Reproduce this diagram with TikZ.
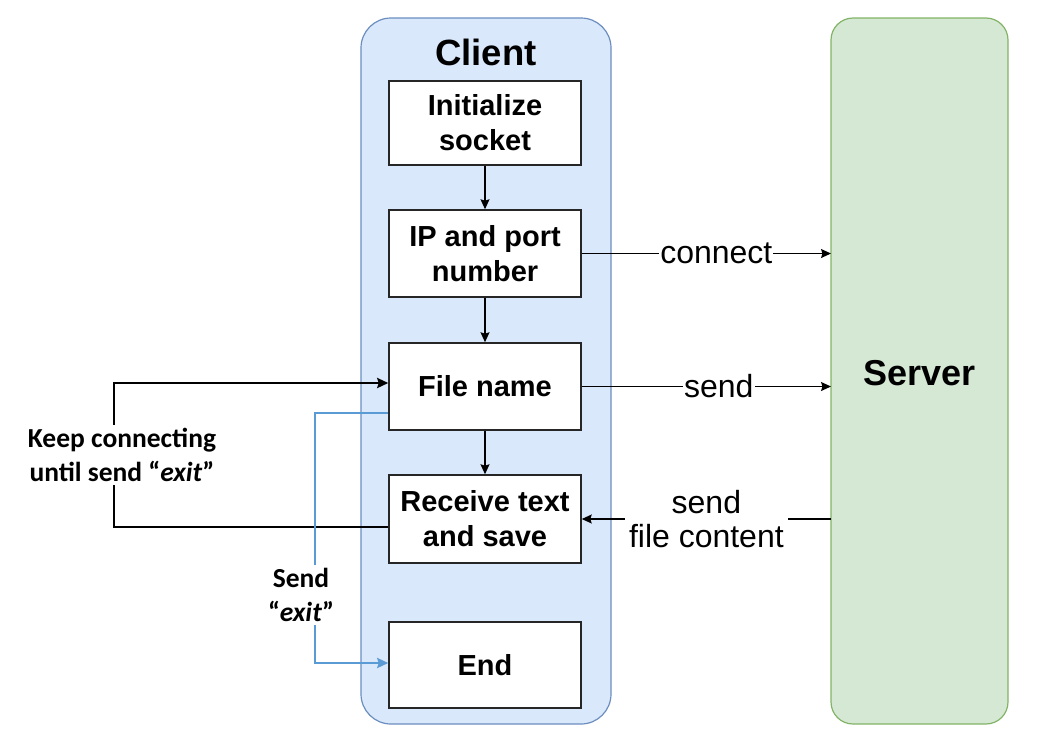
\documentclass[tikz,border=0pt]{standalone}
\usepackage{fontspec}
\setmainfont{Liberation Sans}
\newfontfamily\carl{Carlito}
\usetikzlibrary{arrows.meta}
\definecolor{cfill}{HTML}{DAE8FC}
\definecolor{cdraw}{HTML}{6C8EBF}
\definecolor{sfill}{HTML}{D5E8D4}
\definecolor{sdraw}{HTML}{82B366}
\definecolor{bluel}{HTML}{5B9BD5}
\tikzset{
  lane/.style={draw=#1, line width=1.2pt},
  stepbox/.style={draw=black!85, fill=white, line width=1.5pt, minimum width=192pt,
    minimum height=86pt, align=center, inner sep=0pt,
    font=\bfseries\fontsize{29}{35}\selectfont},
  flow/.style={line width=1.3pt, -{Stealth[length=10pt,width=9pt,inset=1.5pt]}},
  elabel/.style={fill=white, inner sep=1pt, align=center, font=\fontsize{32}{34}\selectfont},
  loopline/.style={line width=2.6pt},
  blueline/.style={line width=2.4pt, draw=bluel},
  sidelabel/.style={fill=white, align=center, inner sep=3pt, font=\carl\bfseries\fontsize{27.5}{34}\selectfont},
}
\begin{document}
\begin{tikzpicture}[x=1pt,y=-1pt]
\useasboundingbox (0,0) rectangle (1038,745);
% containers
\draw[lane=cdraw, fill=cfill, rounded corners=30pt] (361,18) rectangle (611,724);
\draw[lane=sdraw, fill=sfill, rounded corners=22pt] (831,18) rectangle (1008,724);
\node[font=\bfseries\fontsize{36.5}{40}\selectfont] (ctitle) at (486,52) {Client};
\node[font=\bfseries\fontsize{36}{40}\selectfont] (server) at (919.5,373) {Server};
\coordinate (srvleft) at (831,373);
% boxes
\node[stepbox, minimum height=84pt] (init) at (485,123) {Initialize\\socket};
\node[stepbox, minimum height=87pt] (ip) at (485,253.5) {IP and port\\number};
\node[stepbox, minimum height=87pt] (fname) at (485,386.5) {File name};
\node[stepbox, minimum height=88pt] (recv) at (485,519) {Receive text\\and save};
\node[stepbox, minimum height=86pt] (end) at (485,665) {End};
% vertical flow
\draw[flow] (init) -- (ip);
\draw[flow] (ip) -- (fname);
\draw[flow] (fname) -- (recv);
% client <-> server
\draw[flow] (ip.east) -- (ip.east -| srvleft) node[elabel, pos=0.54] (lconnect) {connect};
\draw[flow] (fname.east) -- (fname.east -| srvleft) node[elabel, pos=0.55] (lsend) {send};
\draw[flow] (recv.east -| srvleft) -- (recv.east) node[elabel, pos=0.5, inner sep=4pt] (lcontent) {send\\file content};
% keep connecting loop
\coordinate (lp1) at (114,527);
\coordinate (lp2) at (114,383);
\draw[loopline, -{Stealth[length=11pt,width=10pt,inset=1.5pt]}] ([yshift=-8pt]recv.west) -- (lp1) -- (lp2) -- ([yshift=3.5pt]fname.west);
\node[sidelabel] (lkeep) at (122,455) {Keep connecting\\until send \char"201C\textit{exit}\char"201D};
% send exit
\coordinate (bp1) at (315,413);
\coordinate (bp2) at (315,663);
\draw[blueline, -{Stealth[length=11pt,width=10pt,inset=1.5pt]}] ([yshift=-26.5pt]fname.west) -- (bp1) -- (bp2) -- ([yshift=2pt]end.west);
\node[sidelabel] (lexit) at (301,595) {Send\\\char"201C\textit{exit}\char"201D};
\end{tikzpicture}
\end{document}
